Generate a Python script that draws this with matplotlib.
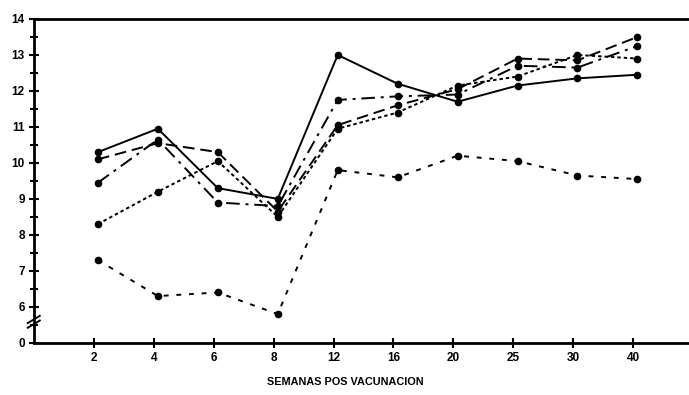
import matplotlib
matplotlib.use("Agg")
import matplotlib.pyplot as plt
import numpy as np

plt.rcParams['font.family'] = ['Liberation Sans', 'DejaVu Sans']

weeks = ["2", "4", "6", "8", "12", "16", "20", "25", "30", "40"]
serie_continua = [10.3, 10.95, 9.3, 9.0, 13.0, 12.2, 11.7, 12.15, 12.35, 12.45]
serie_rayas = [10.1, 10.55, 10.3, 8.65, 11.05, 11.6, 12.05, 12.9, 12.85, 13.5]
serie_raya_punto = [9.45, 10.65, 8.9, 8.8, 11.75, 11.85, 11.9, 12.7, 12.65, 13.25]
serie_punteada = [8.3, 9.2, 10.05, 8.5, 10.95, 11.4, 12.15, 12.4, 13.0, 12.9]
serie_baja = [7.3, 6.3, 6.4, 5.8, 9.8, 9.6, 10.2, 10.05, 9.65, 9.55]
y_ticks = [5, 6, 7, 8, 9, 10, 11, 12, 13, 14]
y_labels = ["0", "6", "7", "8", "9", "10", "11", "12", "13", "14"]
x_label = "SEMANAS POS VACUNACION"

fig = plt.figure(figsize=(6.89, 3.95), dpi=100)
ax = fig.add_axes([0.049, 0.132, 0.951, 0.82])

x = np.arange(1, len(weeks) + 1) + 0.07
lw = 1.4
ms = 4.5
ax.plot(x, serie_continua, color='black', lw=lw, ls='-', marker='o', ms=ms)
ax.plot(x, serie_rayas, color='black', lw=lw, ls=(0, (6, 3)), marker='o', ms=ms)
ax.plot(x, serie_raya_punto, color='black', lw=lw, ls=(0, (7, 3, 1.5, 3)), marker='o', ms=ms)
ax.plot(x, serie_punteada, color='black', lw=lw, ls=(0, (1.8, 1.5)), marker='o', ms=ms)
ax.plot(x, serie_baja, color='black', lw=lw, ls=(0, (2.5, 4)), marker='o', ms=ms)

ax.set_xlim(0, 10.93)
ax.set_ylim(5, 14)
ax.set_xticks(np.arange(1, len(weeks) + 1))
ax.set_xticklabels(weeks, fontsize=8.5, fontweight='bold')
ax.set_yticks(y_ticks)
ax.set_yticklabels(y_labels, fontsize=8.5, fontweight='bold')
ax.set_yticks(np.arange(5.5, 14, 1.0), minor=True)
ax.tick_params(axis='both', which='major', direction='inout', length=7, width=1.5, pad=3)
ax.tick_params(axis='y', which='minor', direction='inout', length=6, width=1.5)

for s in ['left', 'bottom', 'top']:
    ax.spines[s].set_linewidth(2)
ax.spines['right'].set_visible(False)

ax.set_xlabel(x_label, fontsize=7.8, fontweight='bold')
ax.xaxis.set_label_coords((345 - 34) / 655, -0.105)

# axis break marks on y axis
for dy in (0.0, 0.13):
    ax.plot([-0.1, 0.1], [5.42 + dy, 5.62 + dy], color='black', lw=1.4, clip_on=False)

fig.savefig("out.png", dpi=100)
